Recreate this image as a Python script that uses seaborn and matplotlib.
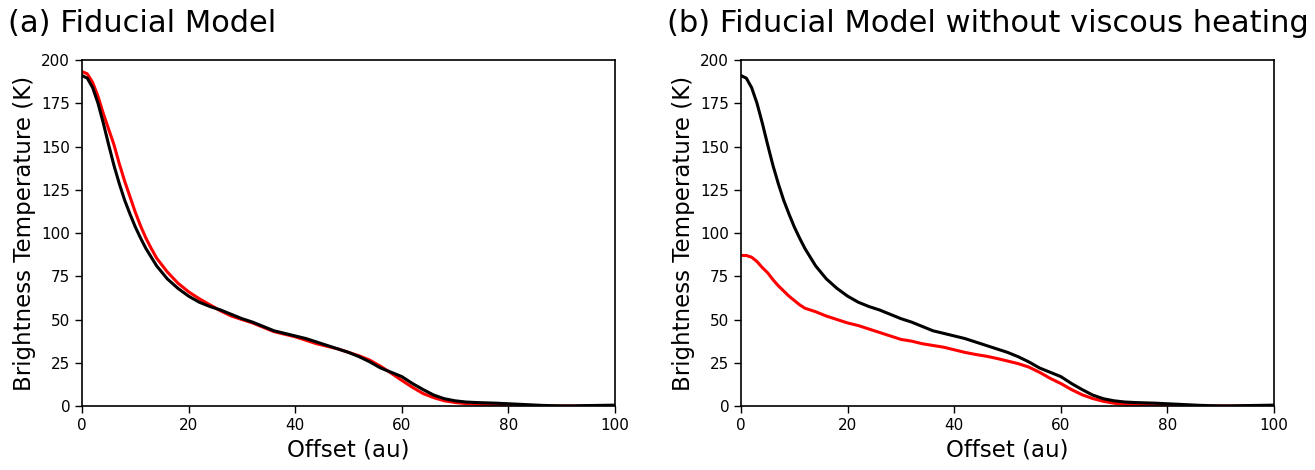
import numpy as np
import pandas as pd
import matplotlib
matplotlib.use("Agg")
import matplotlib.pyplot as plt
import seaborn as sns

# Offsets (au)
offset = [0, 1, 2, 3, 4, 5, 6, 7, 8, 9, 10, 11, 12, 13, 14, 16, 18, 20, 22, 24, 26, 28,
          30, 32, 34, 36, 38, 40, 42, 44, 46, 48, 50, 52, 54, 56, 58, 60, 62, 64, 66, 68,
          70, 72, 74, 76, 78, 80, 82, 84, 86, 88, 90, 92, 94, 96, 98, 100]

# Black curve (same in both panels)
tb_black = [191, 189.5, 184, 175, 163.5, 151, 139, 128.5, 119, 111, 103.5, 97, 91, 86, 81,
            73.5, 68, 63.5, 60, 57.5, 55.5, 53, 50.5, 48.5, 46, 43.5, 42, 40.5, 39, 37, 35,
            33, 31, 28.5, 25.5, 22, 19.5, 17, 13, 9.5, 6.3, 4.2, 3, 2.3, 2, 1.8, 1.6, 1.3,
            1, 0.7, 0.4, 0.2, 0.1, 0.1, 0.2, 0.3, 0.4, 0.5]

# Red curve, panel (a): fiducial model
tb_red_a = [193.3, 192, 187, 179, 169, 160, 151, 140, 130, 121, 112, 104, 97, 91, 85.5,
            77.5, 71, 66, 62, 58.5, 55, 52, 50, 48, 45.5, 43, 41.5, 40, 38, 36, 34.5, 33,
            31, 29, 26.5, 23, 19, 14.8, 10.8, 7.2, 4.8, 3, 2, 1.4, 1.1, 0.8, 0.5, 0.3, 0.1,
            0, 0, 0, 0, 0, 0, 0, 0, 0]

# Red curve, panel (b): fiducial model without viscous heating
tb_red_b = [87, 87, 86, 83.5, 80, 77, 73, 69.5, 66.5, 63.5, 61, 58.5, 56.5, 55.5, 54.5,
            52, 50, 48, 46.5, 44.5, 42.5, 40.5, 38.5, 37.5, 36, 35, 34, 32.5, 31, 29.8,
            28.8, 27.5, 26, 24.5, 22.5, 19.5, 16, 13, 9.5, 6.5, 4.3, 2.7, 1.6, 1.0, 0.6,
            0.4, 0.2, 0.1, 0, 0, 0, 0, 0, 0, 0, 0, 0, 0]

titles = ["(a) Fiducial Model", "(b) Fiducial Model without viscous heating"]
xticks = [0, 20, 40, 60, 80, 100]
yticks = [0, 25, 50, 75, 100, 125, 150, 175, 200]

sns.set_style("ticks")
plt.rcParams['font.family'] = ['DejaVu Sans']
plt.rcParams['text.color'] = 'black'
plt.rcParams['axes.labelcolor'] = 'black'

fig = plt.figure(figsize=(13.15, 4.70), dpi=100)
axes = [fig.add_axes([82/1315, 1-406/470, 533/1315, 346/470]),
        fig.add_axes([741/1315, 1-406/470, 533/1315, 346/470])]

for ax, red, title in zip(axes, [tb_red_a, tb_red_b], titles):
    df = pd.DataFrame({"offset": offset, "red": red, "black": tb_black})
    sns.lineplot(data=df, x="offset", y="red", ax=ax, color="#ff0000", lw=2.2)
    sns.lineplot(data=df, x="offset", y="black", ax=ax, color="black", lw=2.2)
    ax.set_xlim(0, 100)
    ax.set_ylim(0, 200)
    ax.set_xticks(xticks)
    ax.set_yticks(yticks)
    ax.tick_params(labelsize=11, length=5, width=1, colors="black", labelcolor="black")
    ax.set_xlabel("Offset (au)", fontsize=16.5, color="black")
    ax.set_ylabel("Brightness Temperature (K)", fontsize=16.5, color="black")
    for s in ax.spines.values():
        s.set_color("black")
        s.set_linewidth(1.2)
    ax.text(-0.139, 1.081, title, transform=ax.transAxes, fontsize=22,
            color="black", ha="left", va="baseline")

fig.savefig("out.png", dpi=100)
